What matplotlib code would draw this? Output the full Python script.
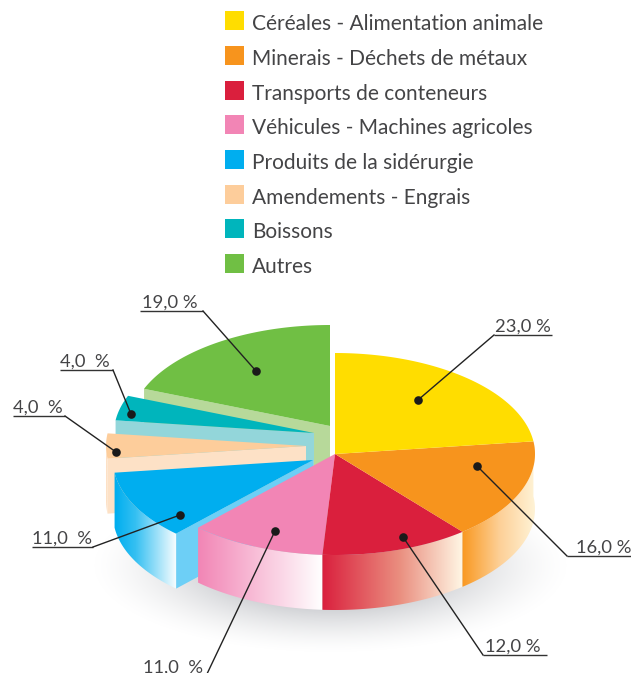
import matplotlib
matplotlib.use('Agg')
import matplotlib.pyplot as plt
from matplotlib.colors import to_rgb
from matplotlib.patches import Polygon, Rectangle
import numpy as np

# data
categories = ['Céréales - Alimentation animale', 'Minerais - Déchets de métaux',
              'Transports de conteneurs', 'Véhicules - Machines agricoles',
              'Produits de la sidérurgie', 'Amendements - Engrais', 'Boissons', 'Autres']
values = [23, 16, 12, 11, 11, 4, 4, 19]
value_labels = ['23,0 %', '16,0 %', '12,0 %', '11,0  %', '11,0  %', '4,0  %', '4,0  %', '19,0 %']

# styles
colors = ['#ffdd00', '#f7941d', '#da1f3d', '#f285b5', '#00aeef', '#fdcd9b', '#00b5bc', '#70bf44']
cut_colors = [None, None, None, None, '#6dcff6', '#fde1c6', '#93d6da', '#b7d99a']
side_stops = [None,
              [(462, '#f9971e'), (500, '#fdd097'), (535, '#fff3d6')],
              [(322, '#da1f3d'), (400, '#ea8f80'), (462, '#fff6e4')],
              [(198, '#f285b5'), (322, '#ffffff')],
              [(115, '#00aeef'), (135, '#35c0f2'), (177, '#ffffff')],
              [(100, '#fde1c6'), (120, '#fde1c6')],
              None, None]
apex_x = [335, 335, 335, 335, 313, 306, 314, 330]
apex_y = [454, 454, 454, 454, 460, 446, 433, 426]
rx, ry, depth = 200, 101, 55

# label anchor: underline start, underline end, dot, text start
line_x0 = [494, 567, 483, 140, 32, 13, 60, 140]
line_x1 = [552, 631, 547, 206, 93, 65, 113, 203]
line_y = [335, 556, 655, 676, 547, 416, 370, 311]
dot_x = [418, 477, 403, 275, 180, 116, 131, 256]
dot_y = [400, 466, 537, 531, 515, 452, 414, 371]
text_x = [495, 576, 485, 143, 32, 13, 60, 142]
text_col = '#444446'
font = 'Lato'

fig = plt.figure(figsize=(6.31, 6.73), dpi=100)
ax = fig.add_axes([0, 0, 1, 1])
ax.set_xlim(0, 631)
ax.set_ylim(673, 0)
ax.axis('off')

# soft shadow under the pie
yy, xx = np.mgrid[500:673, 80:580]
r = np.sqrt(((xx - 330) / 240.0) ** 2 + ((yy - 565) / 88.0) ** 2)
shadow = np.zeros(r.shape + (4,))
shadow[..., :3] = to_rgb('#b9bbc0')
shadow[..., 3] = np.clip((1 - r) / 0.55, 0, 1) ** 1.5 * 0.75
ax.imshow(shadow, extent=(80, 580, 673, 500), aspect='auto', zorder=1, interpolation='bilinear')


def arc(cx, cy, t1, t2, n=80):
    t = np.radians(np.linspace(t1, t2, n))
    return np.column_stack([cx + rx * np.cos(t), cy - ry * np.sin(t)])


def gradient_fill(pts, stops, z):
    xs = [s[0] for s in stops]
    rgb = np.array([to_rgb(s[1]) for s in stops])
    x0, x1 = pts[:, 0].min() - 1, pts[:, 0].max() + 1
    y0, y1 = pts[:, 1].min() - 1, pts[:, 1].max() + 1
    grid = np.linspace(x0, x1, 300)
    row = np.column_stack([np.interp(grid, xs, rgb[:, i]) for i in range(3)])
    im = ax.imshow(row[np.newaxis, :, :], extent=(x0, x1, y1, y0), aspect='auto', zorder=z)
    clip = Polygon(pts, closed=True, transform=ax.transData)
    im.set_clip_path(clip)


# slice angles from the values, clockwise from 12 o'clock
ends = 90 - np.cumsum(values) * 3.6
starts = np.concatenate([[90], ends[:-1]])

z = 2
for i in range(len(values) - 1, -1, -1):
    cx, cy = apex_x[i], apex_y[i]
    t1, t2 = starts[i], ends[i]
    if cut_colors[i]:
        p = arc(cx, cy, t1, t1, 2)[0]
        ax.add_patch(Polygon([(cx, cy), p, (p[0], p[1] + depth), (cx, cy + depth)],
                             closed=True, fc=cut_colors[i], ec='none', zorder=z))
        z += 1
    if side_stops[i]:
        top = arc(cx, cy, t1, max(t2, -180))
        bottom = top[::-1] + [0, depth]
        gradient_fill(np.vstack([top, bottom]), side_stops[i], z)
        z += 1
    top_face = np.vstack([[[cx, cy]], arc(cx, cy, t1, t2)])
    ax.add_patch(Polygon(top_face, closed=True, fc=colors[i], ec='none', zorder=z))
    z += 1

# leader lines, dots and value labels
z = 60
for i, lab in enumerate(value_labels):
    x0, x1, y = line_x0[i], line_x1[i], line_y[i]
    # the elbow is on the side of the underline facing the dot
    elbow = x1 if dot_x[i] > x1 else x0
    ax.plot([x0, x1], [y, y], color='#333333', lw=1.0, zorder=z, solid_capstyle='butt')
    ax.plot([elbow, dot_x[i]], [y, dot_y[i]], color='#222222', lw=1.0, zorder=z)
    ax.plot(dot_x[i], dot_y[i], 'o', color='#1a1a1a', ms=6.2, mew=0, zorder=z + 1)
    ax.text(text_x[i], y - 3.5, lab, ha='left', va='baseline', fontsize=13.2,
            family=font, color=text_col, zorder=z)

# legend
leg_y = [11, 46, 81, 115, 150, 185, 219, 254]
for i, name in enumerate(categories):
    ax.add_patch(Rectangle((225, leg_y[i]), 19, 19, fc=colors[i], ec='none', zorder=50))
    ax.text(252, leg_y[i] + 19, name, ha='left', va='baseline', fontsize=15,
            family=font, color=text_col, zorder=50)

fig.savefig('out.png', dpi=100)
